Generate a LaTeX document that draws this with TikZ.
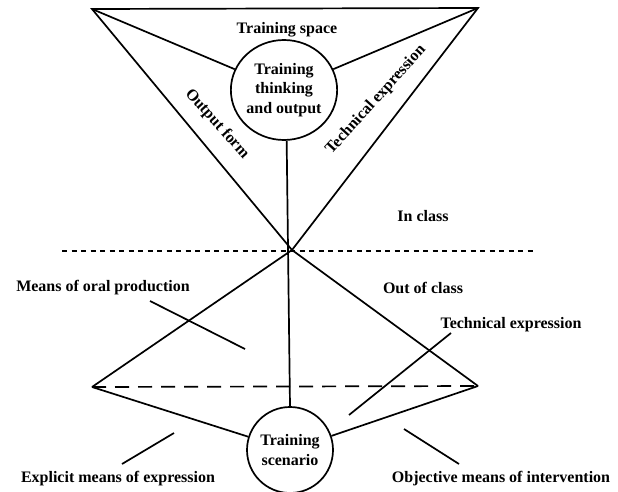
\documentclass[tikz,border=0pt]{standalone}
\usepackage{fontspec}
\setmainfont{Liberation Serif}
\usepackage{tikz}
\usetikzlibrary{shapes.geometric}
\tikzset{
  lbl/.style = {font=\fontsize{16}{19.5}\selectfont\bfseries, inner sep=0pt, align=center},
  ln/.style = {line width=1.7pt}
}

\begin{document}
\begin{tikzpicture}[x=1pt, y=-1pt, line join=miter]
			\useasboundingbox (0,0) rectangle (618,492);
			\coordinate (tl) at (92,9);
			\coordinate (tr) at (478,8);
			\coordinate (o) at (292,250);
			\coordinate (lv) at (92,387);
			\coordinate (rv) at (478,386);
			\coordinate (dl) at (62,251);
			\coordinate (dr) at (535,251);
			\node (think) at (284,90) [ellipse, draw, ln, minimum width = 106pt, minimum height = 100pt, inner sep = 0pt, lbl] {Training\\thinking\\and output};
			\node (scen) at (290,450) [circle, draw, ln, minimum size = 86pt, inner sep = 0pt, lbl] {Training\\scenario};
			\node (space) at (287,30) [lbl] {Training space};
			\node (form) at (217,124) [lbl, rotate = -48] {Output form};
			\node (tech) at (376,100) [lbl, rotate = 48] {Technical expression};
			\node (incl) at (423,216) [lbl] {In class};
			\node (oral) at (103,288) [lbl] {Means of oral production};
			\node (outcl) at (423,288) [lbl] {Out of class};
			\node (tech2) at (511,325) [lbl] {Technical expression};
			\node (expl) at (118,479) [lbl] {Explicit means of expression};
			\node (obj) at (501,479) [lbl] {Objective means of intervention};
			\coordinate (m1a) at (150,301);
			\coordinate (m1b) at (245,349);
			\coordinate (m2a) at (451,333);
			\coordinate (m2b) at (349,415);
			\coordinate (m3a) at (174,433);
			\coordinate (m3b) at (122,464);
			\coordinate (m4a) at (404,429);
			\coordinate (m4b) at (459,464);
			\draw[ln] (tl) -- (tr) -- (o) -- cycle;
			\draw[ln] (tl) edge (think);
			\draw[ln] (tr) edge (think);
			\draw[ln] (think.-87) edge (scen.north);
			\draw[ln] (o) edge (lv);
			\draw[ln] (o) edge (rv);
			\draw[ln] (lv) edge (scen);
			\draw[ln] (rv) edge (scen);
			\draw[line width = 2.6pt, dash pattern = on 5pt off 4.5pt] (dl) -- (dr);
			\draw[ln, dash pattern = on 14pt off 9pt] (lv) -- (rv);
			\draw[ln] (m1a) edge (m1b);
			\draw[ln] (m2a) edge (m2b);
			\draw[ln] (m3a) edge (m3b);
			\draw[ln] (m4a) edge (m4b);
			\end{tikzpicture}
\end{document}
